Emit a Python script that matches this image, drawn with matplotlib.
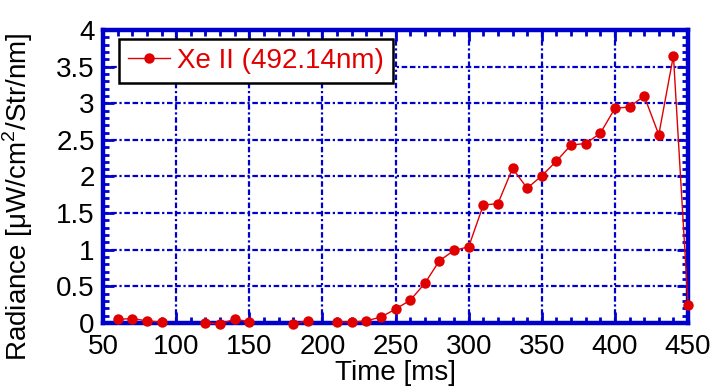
import numpy as np
import matplotlib
matplotlib.use("Agg")
import matplotlib.pyplot as plt
from matplotlib.ticker import MultipleLocator

plt.rcParams['font.family'] = ['Liberation Sans', 'DejaVu Sans']
plt.rcParams['mathtext.fontset'] = 'custom'
plt.rcParams['mathtext.rm'] = 'Liberation Sans'

time_ms = [60, 70, 80, 90, 100, 110, 120, 130, 140, 150, 160, 170, 180, 190, 200,
           210, 220, 230, 240, 250, 260, 270, 280, 290, 300, 310, 320, 330, 340,
           350, 360, 370, 380, 390, 400, 410, 420, 430, 440, 450]
radiance = [0.05, 0.06, 0.03, 0.01, np.nan, np.nan, 0.0, -0.01, 0.05, 0.02, np.nan, np.nan,
            -0.01, 0.03, np.nan, 0.02, 0.01, 0.03, 0.08, 0.19, 0.31, 0.54, 0.85, 0.99,
            1.04, 1.61, 1.63, 2.11, 1.84, 2.01, 2.21, 2.43, 2.45, 2.59, 2.93, 2.95,
            3.10, 2.57, 3.65, 0.25]
series_label = "Xe II (492.14nm)"
x_ticks = [50, 100, 150, 200, 250, 300, 350, 400, 450]
y_ticks = [0, 0.5, 1, 1.5, 2, 2.5, 3, 3.5, 4]
y_tick_labels = ["0", "0.5", "1", "1.5", "2", "2.5", "3", "3.5", "4"]

blue = '#0000cc'
red = '#e00000'
fs = 20

fig = plt.figure(figsize=(7.13, 3.87), dpi=100)
ax = fig.add_axes([0.1445, 0.1654, 0.8205, 0.7571])

ax.plot(time_ms, radiance, color=red, lw=1.0, marker='o', ms=7.5,
        markeredgewidth=0, label=series_label, clip_on=False, zorder=5)

ax.set_xlim(50, 450)
ax.set_ylim(0, 4)
ax.set_xticks(x_ticks)
ax.set_yticks(y_ticks)
ax.set_yticklabels(y_tick_labels)
ax.xaxis.set_minor_locator(MultipleLocator(10))
ax.yaxis.set_minor_locator(MultipleLocator(0.1))

ax.grid(True, which='major', color=blue, lw=1.6, linestyle=(0, (2.5, 1.2, 2.5, 1.2, 1, 1.2)))
ax.set_axisbelow(True)

for s in ax.spines.values():
    s.set_color(blue)
    s.set_linewidth(3.2)
    s.set_zorder(4)

ax.tick_params(which='both', direction='in', top=True, right=True, color=blue,
               labelsize=fs, labelcolor='black')
ax.tick_params(which='major', length=8, width=2)
ax.tick_params(which='minor', length=4.5, width=2)
ax.tick_params(axis='x', pad=8)
ax.tick_params(axis='y', pad=6)

ax.set_xlabel("Time [ms]", fontsize=fs)
ax.xaxis.set_label_coords(0.5, -0.127)
ax.set_ylabel(r"Radiance [$\mathregular{\mu}$W/cm$^\mathregular{2}$/Str/nm]", fontsize=fs)
ax.yaxis.set_label_coords(-0.117, 0.43)

leg = ax.legend(loc='upper left', bbox_to_anchor=(0.028, 0.97), fontsize=fs,
                frameon=True, fancybox=False, edgecolor='black', framealpha=1,
                handlelength=1.5, borderpad=0.32, handletextpad=0.25, labelcolor=red,
                borderaxespad=0)
leg.get_frame().set_linewidth(1.8)

fig.savefig("out.png", dpi=100)
